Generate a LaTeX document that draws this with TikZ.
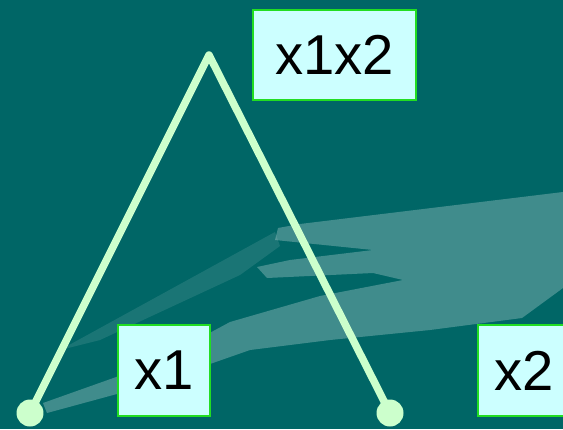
\documentclass[tikz,border=0pt]{standalone}
\usepackage{fontspec}
\setmainfont{Liberation Sans}
\usepackage{xcolor}
\usepackage{tikz}
\usetikzlibrary{positioning, calc}
\definecolor{slideTeal}{RGB}{0, 102, 102}
\definecolor{branchGreen}{RGB}{204, 255, 204}
\definecolor{labelFill}{RGB}{204, 255, 255}
\definecolor{labelBorder}{RGB}{34, 221, 34}

\begin{document}
\begin{tikzpicture}[
    x=0.02cm, y=-0.02cm,
    streak/.style={fill=white, fill opacity=0.25},
    faint/.style={fill=white, fill opacity=0.1},
    labelbox/.style={rectangle, draw=labelBorder, line width=1.4pt, fill=labelFill, inner sep=0pt, minimum width=1.84cm, minimum height=1.82cm, font=\fontsize{32}{38}\selectfont},
    leafdot/.style={circle, fill=branchGreen, inner sep=0pt, minimum size=0.54cm},
    branch/.style={draw=branchGreen, line width=0.15cm, line join=round}
]

\useasboundingbox (0,0) rectangle (563,429);
\clip (0,0) rectangle (563,429);

% Background
\fill[slideTeal] (0,0) rectangle (563,429);
\fill[faint] (60,350) -- (275,232) -- (280,246) -- (240,275) -- (100,340) -- cycle;
\fill[streak] (47,413) -- (43,403) -- (150,365) -- (230,322) -- (320,296) -- (403,280)
    -- (373,273) -- (267,278) -- (257,267) -- (290,260) -- (373,250) -- (275,240)
    -- (278,228) -- (300,224) -- (563,192) -- (563,288) -- (522,318) -- (430,330)
    -- (330,340) -- (250,350) -- (150,385) -- cycle;

% Nodes
\coordinate (apex) at (209,55);
\node (x1dot) [leafdot] at (30,413) {};
\node (x2dot) [leafdot] at (390,413) {};
\node (root) [labelbox, minimum width=3.26cm, minimum height=1.8cm] at (334.5,55) {x1x2};
\node (x1) [labelbox] at (164,370.5) {x1};
\node (x2) [labelbox] at (524,370.5) {x2};

% Connectors
\draw[branch] (x1dot.center) -- (apex) -- (x2dot.center);

\end{tikzpicture}
\end{document}
